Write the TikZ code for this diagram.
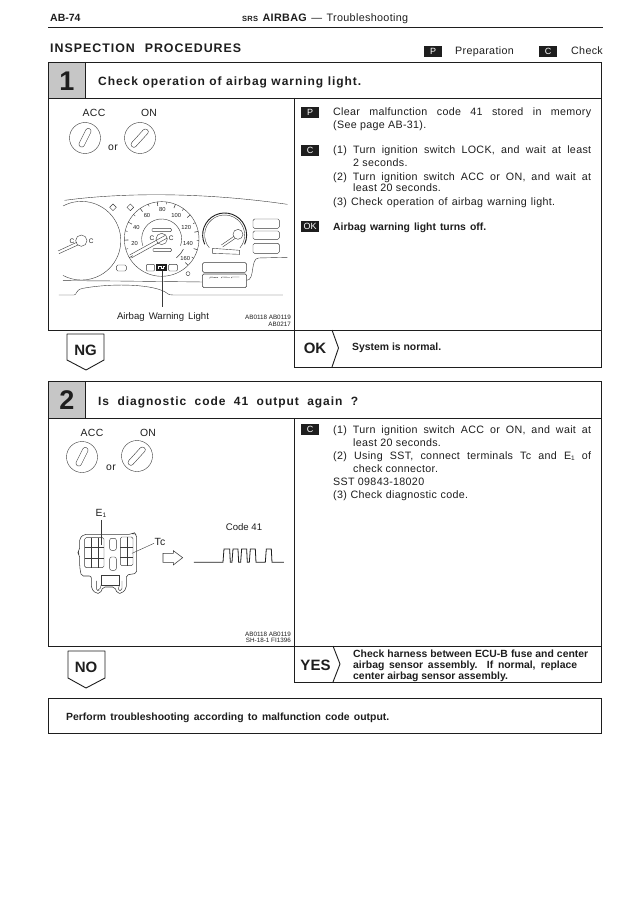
\documentclass[tikz,border=0pt]{standalone}
\usepackage{fontspec}
\setmainfont[LetterSpace=3]{Liberation Sans}
\newfontfamily\titlefam[LetterSpace=8]{Liberation Sans}
\newfontfamily\plainfam{Liberation Sans}
\newcommand{\fs}[1]{\fontsize{#1}{#1}\selectfont}
\definecolor{ink}{HTML}{1E1E1E}
\definecolor{soft}{HTML}{3A3A3A}
\definecolor{cellgray}{HTML}{C6C6C6}
\tikzset{
  tx/.style={anchor=base west,inner sep=0pt,text=ink,font=\fs{10.7}},
  txb/.style={tx,font=\plainfam\bfseries\fs{10.4}},
  tc/.style={anchor=base,inner sep=0pt,text=ink,font=\fs{10.4}},
  tcs/.style={anchor=base,inner sep=0pt,text=ink,font=\plainfam\fs{9.6}},
  tiny/.style={anchor=base east,inner sep=0pt,text=ink,font=\plainfam\fs{6.3}},
  num/.style={anchor=center,inner sep=0pt,text=ink,font=\plainfam\fs{5.8}},
  badge/.style={fill=ink,draw=ink,line width=0.3pt,minimum width=17pt,minimum height=10pt,inner sep=0pt,text=white,font=\plainfam\fs{9},anchor=center},
  frame/.style={draw=ink,line width=0.9pt},
  thin/.style={draw=soft,line width=0.55pt},
  hair/.style={draw=soft,line width=0.4pt},
  tag/.style={draw=ink,line width=0.9pt,line join=round,fill=white},
  big/.style={anchor=center,inner sep=0pt,text=ink,font=\plainfam\bfseries\fs{15}},
  stepnum/.style={anchor=center,inner sep=0pt,text=ink,font=\plainfam\bfseries\fs{27}},
  title/.style={anchor=base west,inner sep=0pt,text=ink,font=\titlefam\bfseries\fs{12}},
}
\newcommand{\jl}[2]{\makebox[#1pt][s]{#2}}
\newcommand{\subone}{\raisebox{-1.5pt}{\fs{6.5}1}}
\begin{document}
\begin{tikzpicture}[x=1pt,y=-1pt]
\useasboundingbox (0,0) rectangle (640,904);
\fill[white] (0,0) rectangle (640,904);

% page header
\node[txb,font=\plainfam\bfseries\fs{10.5}] (page) at (50,22) {AB-74};
\node[tx,font=\fs{10.8}] (head) at (242,22) {\jl{166}{{\bfseries\fs{7.5}SRS} {\bfseries AIRBAG} — Troubleshooting}};
\draw[draw=ink,line width=1.4pt] (48,27.5) -- (603,27.5);
\node[title,font=\titlefam\bfseries\fs{12.4}] (insp) at (50,53) {\jl{191}{INSPECTION PROCEDURES}};
\node[badge] (bp0) at (433,51) {P};
\node[tx] (prep) at (455,55) {Preparation};
\node[badge] (bc0) at (548,51) {C};
\node[tx] (chk) at (571,55) {Check};

% box 1
\fill[cellgray] (48,62) rectangle (85,98);
\draw[frame] (48,62) rectangle (601,98);
\draw[frame] (85,62) -- (85,98);
\draw[frame] (48,98) -- (48,330) -- (294,330);
\draw[frame] (294,98) -- (294,367);
\draw[frame] (601,98) -- (601,367) -- (294,367);
\draw[frame] (294,330) -- (601,330);
\node[stepnum] (n1) at (67,81) {1};
\node[title] (t1) at (98,86) {\jl{263}{Check operation of airbag warning light.}};

% box 1 right text
\node[badge] (bp1) at (310,112) {P};
\node[tx] (a1) at (333,116) {\jl{258}{Clear malfunction code 41 stored in memory}};
\node[tx] (a2) at (333,129) {(See page AB-31).};
\node[badge] (bc1) at (310,150) {C};
\node[tx] (a3) at (333,154) {\jl{258}{(1) Turn ignition switch LOCK, and wait at least}};
\node[tx] (a4) at (353,167) {2 seconds.};
\node[tx] (a5) at (333,180) {\jl{258}{(2) Turn ignition switch ACC or ON, and wait at}};
\node[tx] (a6) at (353,192) {least 20 seconds.};
\node[tx] (a7) at (333,205) {\jl{222}{(3) Check operation of airbag warning light.}};
\node[badge] (bok) at (310,226) {OK};
\node[txb] (a8) at (333,230) {\jl{153}{Airbag warning light turns off.}};

% box 1 bottom row
\draw[frame] (332,330) -- (338.5,348) -- (332,367);
\node[big] (ok) at (315,348) {OK};
\node[txb] (sys) at (352,350) {System is normal.};
\draw[tag] (67,334) -- (104,334) -- (104,360) -- (86,370) -- (67,360) -- cycle;
\node[big] (ng) at (85.5,350) {NG};

% key switches box 1
\node[tc] (acc1) at (94,117) {ACC};
\node[tc] (on1) at (149,117) {ON};
\node[tc] (or1) at (113,151) {or};
\draw[hair] (85,138) circle (15.5);
\draw[hair] (140,138) circle (15.5);
\draw[hair,rounded corners=2.6pt] (78,145.5) -- (87,127.5) -- (92,130) -- (83,148) -- cycle;
\draw[hair,rounded corners=2.6pt] (130,144.5) -- (145,128) -- (149.5,131.5) -- (134,148.5) -- cycle;

% instrument cluster
\begin{scope}[shift={(48,95)},scale=0.3333]
  \draw[hair] (50,316) .. controls (230,292) and (470,292) .. (718,328);
  \draw[hair] (45,333) arc[start angle=-118,end angle=118,radius=118];
  \draw[hair] (100,437) circle (17);
  \draw[hair] (30,468) -- (86,442);
  \draw[hair] (33,476) -- (90,450);
  \draw[hair] (195,327) -- (205,337) -- (195,347) -- (185,337) -- cycle;
  \draw[hair] (247,327) -- (257,337) -- (247,347) -- (237,337) -- cycle;
  % speedometer
  \draw[hair] (341,432) circle (112);
  \draw[hair] (341,432) ++(160:60) arc[start angle=160,end angle=380,radius=60];
  \foreach \a in {150,178.3,206.7,235,263.3,291.7,320,348.3,376.7,405}
    \draw[thin] (341,432) ++(\a:100) -- ++(\a:12);
  \foreach \a in {164,192.5,221,249,277.5,306,334,362.5,391}
    \draw[hair] (341,432) ++(\a:105) -- ++(\a:7);
  \draw[thin] (341,432) ++(25:72) arc[start angle=25,end angle=52,radius=72];
  \node[num] (s20) at (260,445) {20};
  \node[num] (s40) at (265,397) {40};
  \node[num] (s60) at (297,362) {60};
  \node[num] (s80) at (343,345) {80};
  \node[num] (s100) at (385,362) {100};
  \node[num] (s120) at (415,397) {120};
  \node[num] (s140) at (420,445) {140};
  \node[num] (s160) at (412,490) {160};
  \draw[hair,rounded corners=1pt] (312,400) rectangle (370,410);
  \draw[hair,rounded corners=1pt] (315,460) rectangle (370,470);
  \fill[white] (341,432) circle (17);
  \draw[hair] (341,432) circle (17);
  \node[num,font=\plainfam\fs{6.5}] (cl) at (312,431) {C};
  \node[num,font=\plainfam\fs{6.5}] (cr) at (370,431) {C};
  \node[num,font=\plainfam\fs{6.5}] (cll) at (72,438) {C};
  \node[num,font=\plainfam\fs{6.5}] (crr) at (130,438) {C};
  \draw[hair] (245,480) -- (352,421);
  \draw[hair] (250,489) -- (358,429);
  \draw[hair,rounded corners=1pt,fill=white] (295,508) rectangle (320,528);
  \draw[hair,rounded corners=1pt,fill=white] (362,508) rectangle (388,528);
  \fill[ink] (325,506) rectangle (358,528);
  \draw[white,line width=0.4pt] (331,522) -- (331,513) -- (340,513) -- (340,520) -- (346,520) -- (346,513) -- (352,513);
  \draw[hair,rounded corners=1.5pt] (205,510) rectangle (235,528);
  \draw[hair] (420,536) circle (6);
  \draw[hair] (343,528) -- (343,637);
  % right gauge
  \draw[line width=0.9pt,draw=ink] (530,420) ++(155:66) arc[start angle=155,end angle=385,radius=66];
  \draw[hair] (530,420) ++(140:60) arc[start angle=140,end angle=400,radius=60];
  \draw[hair] (494,460) -- (494,475) -- (575,478) -- (575,466) -- cycle;
  \draw[hair] (570,418) circle (15);
  \draw[hair] (520,450) -- (558,424);
  \draw[hair] (524,456) -- (562,430);
  \draw[hair,rounded corners=1.5pt] (615,372) rectangle (694,400);
  \draw[hair,rounded corners=1.5pt] (615,408) rectangle (694,433);
  \draw[hair,rounded corners=1.5pt] (615,445) rectangle (694,475);
  \draw[hair,rounded corners=1.5pt] (463,503) rectangle (596,532);
  \draw[thin,rounded corners=1.5pt] (463,537) rectangle (596,578);
  \draw[hair] (485,550) -- (487,546) -- (510,548);
  \draw[hair] (520,549) -- (522,546) -- (545,547);
  \draw[hair] (550,549) -- (552,546) -- (574,546);
  % panel lines
  \draw[hair] (45,557) -- (200,558) -- (463,561);
  \draw[hair] (596,556) .. controls (622,556) and (606,490) .. (632,489) -- (718,487);
  \draw[hair] (33,600) -- (78,600) .. controls (88,600) and (80,585) .. (105,580) .. controls (180,566) and (300,565) .. (350,590) .. controls (360,596) and (360,600) .. (375,600) -- (705,600);
\end{scope}
\node[tcs] (awl) at (163,319) {\jl{92}{Airbag Warning Light}};
\node[tiny] (c1) at (291,319.5) {AB0118 AB0119};
\node[tiny] (c2) at (291,326) {AB0217};

% box 2
\fill[cellgray] (48,381) rectangle (85,418);
\draw[frame] (48,381) rectangle (601,418);
\draw[frame] (85,381) -- (85,418);
\draw[frame] (48,418) -- (48,646) -- (294,646);
\draw[frame] (294,418) -- (294,682);
\draw[frame] (601,418) -- (601,682) -- (294,682);
\draw[frame] (294,646) -- (601,646);
\node[stepnum] (n2) at (67,400) {2};
\node[title] (t2) at (98,405) {\jl{260}{Is diagnostic code 41 output again ?}};

% box 2 right text
\node[badge] (bc2) at (310,429) {C};
\node[tx] (b1) at (333,433) {\jl{258}{(1) Turn ignition switch ACC or ON, and wait at}};
\node[tx] (b2) at (353,446) {least 20 seconds.};
\node[tx] (b3) at (333,459) {\jl{258}{(2) Using SST, connect terminals Tc and E\subone{} of}};
\node[tx] (b4) at (353,472) {check connector.};
\node[tx] (b5) at (333,485) {SST 09843-18020};
\node[tx] (b6) at (333,498) {\jl{135}{(3) Check diagnostic code.}};

% box 2 bottom row
\draw[frame] (333,646) -- (340,664) -- (333,682);
\node[big] (yes) at (315.5,665) {YES};
\node[txb] (y1) at (353,657) {\jl{235}{Check harness between ECU-B fuse and center}};
\node[txb] (y2) at (353,668) {\jl{224}{airbag sensor assembly. If normal, replace}};
\node[txb] (y3) at (353,679) {center airbag sensor assembly.};
\draw[tag] (68,651) -- (105,651) -- (105,678) -- (86,688) -- (68,678) -- cycle;
\node[big] (no) at (86,667) {NO};

% key switches box 2
\node[tc] (acc2) at (92,436) {ACC};
\node[tc] (on2) at (148,436) {ON};
\node[tc] (or2) at (111,470) {or};
\draw[hair] (82,457) circle (15.5);
\draw[hair] (137,456) circle (15.5);
\draw[hair,rounded corners=2.6pt] (75,464.5) -- (84,446.5) -- (89,449) -- (80,467) -- cycle;
\draw[hair,rounded corners=2.6pt] (127,462.5) -- (142,446) -- (146.5,449.5) -- (131,466.5) -- cycle;

% connector
\begin{scope}[shift={(48,375)},scale=0.3333]
  \draw[thin,rounded corners=2pt] (95,490) -- (108,478) -- (250,478) -- (258,473) -- (266,480) -- (266,595) -- (235,600) -- (235,640) -- (222,655) -- (208,655) -- (200,636) -- (165,636) -- (157,655) -- (143,655) -- (130,640) -- (130,603) -- (100,603) -- (95,575) -- (95,540) -- (88,533) -- (95,525) -- cycle;
  \draw[hair,rounded corners=1.5pt] (110,488) rectangle (168,578);
  \draw[hair] (130,488) -- (130,578);
  \draw[hair] (150,488) -- (150,578);
  \draw[hair] (110,516) -- (168,516);
  \draw[hair] (110,550) -- (168,550);
  \draw[hair,rounded corners=1.5pt] (217,486) rectangle (255,572);
  \draw[hair] (237,486) -- (237,572);
  \draw[hair] (217,516) -- (255,516);
  \draw[hair] (217,548) -- (255,548);
  \draw[hair,rounded corners=2pt] (185,490) rectangle (205,526);
  \draw[hair,rounded corners=2pt] (185,546) rectangle (205,586);
  \draw[hair] (160,600) rectangle (215,630);
  \draw[hair,rounded corners=2pt] (145,618) -- (145,646) -- (155,646) -- (160,628);
  \draw[hair,rounded corners=2pt] (215,628) -- (210,646) -- (222,646) -- (222,618);
  \draw[hair] (160,435) -- (160,510);
  \draw[hair] (252,535) -- (318,505);
  \draw[thin,line join=miter] (345,535) -- (376,535) -- (376,527) -- (404,548) -- (376,570) -- (376,562) -- (345,562) -- cycle;
  \draw[line width=0.8pt,draw=ink] (438,562) -- (525,562) -- (528,522) -- (545,522) -- (547,562) -- (552,562) -- (555,522) -- (570,522) -- (572,562) -- (578,562) -- (581,522) -- (596,522) -- (598,562) -- (604,562) -- (607,522) -- (622,522) -- (624,562) -- (652,562) -- (655,522) -- (670,522) -- (672,562) -- (708,562);
\end{scope}
\node[tc] (e1) at (101,516) {E\subone};
\node[tc] (tcl) at (160,545) {Tc};
\node[tcs] (code) at (244,530) {Code 41};
\node[tiny] (c3) at (291,636) {AB0118 AB0119};
\node[tiny] (c4) at (291,642.5) {SH-18-1 FI1396};

% final box
\draw[frame] (48,698) rectangle (601,733);
\node[txb] (fin) at (66,720.5) {\jl{323}{Perform troubleshooting according to malfunction code output.}};
\end{tikzpicture}
\end{document}
